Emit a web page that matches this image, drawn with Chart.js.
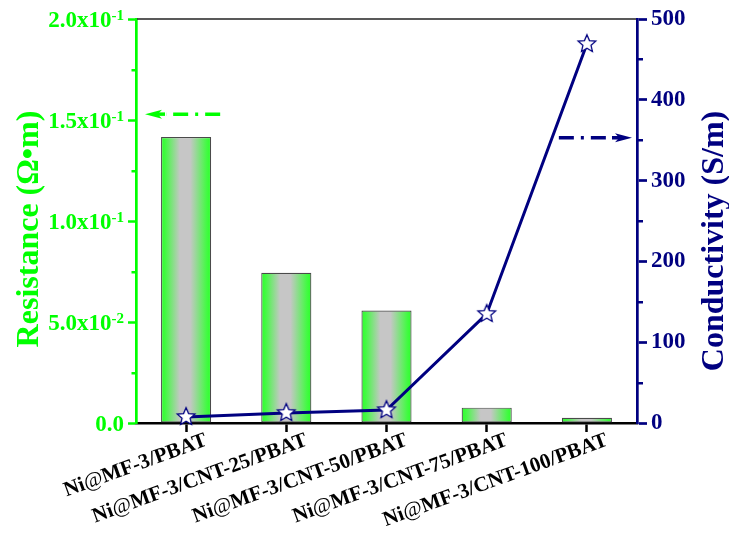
<!DOCTYPE html>
<html>
<head>
<meta charset="utf-8">
<script src="https://cdn.jsdelivr.net/npm/chart.js@4/dist/chart.umd.min.js"></script>
<style>
  html, body { margin: 0; padding: 0; background: #ffffff; }
  canvas { display: block; }
</style>
</head>
<body>
<canvas id="chart" width="729" height="535"></canvas>
<script>
// Samples
const categories = [
  'Ni@MF-3/PBAT',
  'Ni@MF-3/CNT-25/PBAT',
  'Ni@MF-3/CNT-50/PBAT',
  'Ni@MF-3/CNT-75/PBAT',
  'Ni@MF-3/CNT-100/PBAT'
];
// Resistance (Ω•m), left axis
const resistance = [0.1416, 0.0744, 0.0557, 0.0076, 0.0026];
// Conductivity (S/m), right axis
const conductivity = [7.5, 12.5, 16, 135, 469];

// Left axis tick labels: mantissa x10^exponent
const resistanceTicks = [0, 0.05, 0.10, 0.15, 0.20];
const resistanceMantissa = ['0.0', '5.0x10', '1.0x10', '1.5x10', '2.0x10'];
const resistanceExponent = ['', '-2', '-1', '-1', '-1'];
const resistanceMinorTicks = [0.025, 0.075, 0.125, 0.175];
const conductivityMinorTicks = [50, 150, 250, 350, 450];

const GREEN = '#00ff00';
const NAVY = '#000080';
const SERIF = "'Liberation Serif', 'Times New Roman', serif";

// Axis-pointing arrows, given in data units (category index, axis value)
const axisArrows = [
  { scale: 'y',  from: [0.34, 0.1529], to: [-0.41, 0.1529], color: GREEN },
  { scale: 'y1', from: [3.72, 353],    to: [4.45, 353],     color: NAVY }
];

// Open star marker
function makeStar() {
  const s = 26, c = document.createElement('canvas');
  c.width = s; c.height = s;
  const g = c.getContext('2d');
  const R = 9.3, r = R * 0.46, cx = s / 2, cy = s / 2;
  g.beginPath();
  for (let k = 0; k < 10; k++) {
    const ang = -Math.PI / 2 + k * Math.PI / 5;
    const rad = k % 2 ? r : R;
    const px = cx + rad * Math.cos(ang), py = cy + rad * Math.sin(ang);
    if (k === 0) g.moveTo(px, py); else g.lineTo(px, py);
  }
  g.closePath();
  g.fillStyle = '#ffffff';
  g.fill();
  g.lineJoin = 'miter';
  g.lineWidth = 1.3;
  g.strokeStyle = NAVY;
  g.stroke();
  return c;
}
const starMarker = makeStar();

// Horizontal green-grey-green fill for each bar
function barFill(c) {
  const chart = c.chart;
  const xs = chart.scales.x;
  if (!xs || c.type !== 'data' || !isFinite(xs.getPixelForValue(0))) return '#c6c6c6';
  const cx = xs.getPixelForValue(c.dataIndex);
  const w = (xs.getPixelForValue(1) - xs.getPixelForValue(0)) * 0.5;
  const g = chart.ctx.createLinearGradient(cx - w / 2, 0, cx + w / 2, 0);
  g.addColorStop(0.00, '#2cff2c');
  g.addColorStop(0.08, '#40fb40');
  g.addColorStop(0.38, '#c6c6c6');
  g.addColorStop(0.58, '#c6c6c6');
  g.addColorStop(0.92, '#40fb40');
  g.addColorStop(1.00, '#2cff2c');
  return g;
}

const decorations = {
  id: 'decorations',
  afterDatasetsDraw(chart) {
    const ctx = chart.ctx;
    const xs = chart.scales.x;
    ctx.save();
    axisArrows.forEach(ar => {
      const ys = chart.scales[ar.scale];
      const x0 = xs.getPixelForValue(ar.from[0]), y0 = ys.getPixelForValue(ar.from[1]);
      const x1 = xs.getPixelForValue(ar.to[0]),   y1 = ys.getPixelForValue(ar.to[1]);
      const dir = Math.sign(x1 - x0);
      const headLen = 17, headHalf = 4.5;
      ctx.strokeStyle = ar.color;
      ctx.fillStyle = ar.color;
      ctx.lineWidth = 3.5;
      ctx.setLineDash([15, 7, 3, 7]);
      ctx.beginPath();
      ctx.moveTo(x0, y0);
      ctx.lineTo(x1 - dir * (headLen + 4), y1);
      ctx.stroke();
      ctx.setLineDash([]);
      ctx.beginPath();
      ctx.moveTo(x1 - dir * (headLen + 3), y1);
      ctx.lineTo(x1 - dir * headLen * 0.6, y1);
      ctx.stroke();
      ctx.beginPath();
      ctx.moveTo(x1, y1);
      ctx.lineTo(x1 - dir * headLen, y1 - headHalf);
      ctx.lineTo(x1 - dir * headLen * 0.75, y1);
      ctx.lineTo(x1 - dir * headLen, y1 + headHalf);
      ctx.closePath();
      ctx.fill();
    });
    ctx.restore();
  },
  afterDraw(chart) {
    const ctx = chart.ctx;
    const a = chart.chartArea;
    const xs = chart.scales.x, ys = chart.scales.y, y1s = chart.scales.y1;
    ctx.save();

    // top frame line
    ctx.strokeStyle = '#222222';
    ctx.lineWidth = 1.5;
    ctx.beginPath();
    ctx.moveTo(a.left + 1, a.top);
    ctx.lineTo(a.right - 1, a.top);
    ctx.stroke();

    // minor ticks
    ctx.lineWidth = 2.5;
    ctx.strokeStyle = GREEN;
    resistanceMinorTicks.forEach(v => {
      const py = Math.round(ys.getPixelForValue(v)) + 0.25;
      ctx.beginPath(); ctx.moveTo(a.left - 4.5, py); ctx.lineTo(a.left, py); ctx.stroke();
    });
    ctx.strokeStyle = NAVY;
    conductivityMinorTicks.forEach(v => {
      const py = Math.round(y1s.getPixelForValue(v)) + 0.25;
      ctx.beginPath(); ctx.moveTo(a.right, py); ctx.lineTo(a.right + 6, py); ctx.stroke();
    });

    // left tick labels with superscript exponents
    ctx.fillStyle = GREEN;
    ctx.textBaseline = 'alphabetic';
    ctx.textAlign = 'right';
    resistanceTicks.forEach((v, i) => {
      const base = ys.getPixelForValue(v) + 7.5;
      let right = a.left - 12;
      if (resistanceExponent[i]) {
        ctx.font = 'bold 15px ' + SERIF;
        ctx.fillText(resistanceExponent[i], right, base - 7);
        right -= ctx.measureText(resistanceExponent[i]).width;
      }
      ctx.font = 'bold 23px ' + SERIF;
      ctx.fillText(resistanceMantissa[i], right, base);
    });

    // rotated category labels ("@" in regular weight)
    ctx.fillStyle = '#000000';
    ctx.textAlign = 'left';
    const ang = -20 * Math.PI / 180;
    categories.forEach((lab, i) => {
      const at = lab.indexOf('@');
      const parts = [
        [lab.slice(0, at), 'bold'],
        ['@', 'normal'],
        [lab.slice(at + 1), 'bold']
      ];
      let total = 0;
      parts.forEach(p => { ctx.font = p[1] + ' 21px ' + SERIF; total += ctx.measureText(p[0]).width; });
      ctx.save();
      ctx.translate(xs.getPixelForValue(i) + 22, a.bottom + 22);
      ctx.rotate(ang);
      let x = -total;
      parts.forEach(p => {
        ctx.font = p[1] + ' 21px ' + SERIF;
        ctx.fillText(p[0], x, 0);
        x += ctx.measureText(p[0]).width;
      });
      ctx.restore();
    });

    // axis titles
    const mid = (a.top + a.bottom) / 2;
    ctx.textAlign = 'center';
    ctx.font = 'bold 32px ' + SERIF;
    ctx.fillStyle = GREEN;
    ctx.save();
    ctx.translate(a.left - 98, mid + 8);
    ctx.rotate(-Math.PI / 2);
    ctx.fillText('Resistance (Ω•m)', 0, 0);
    ctx.restore();
    ctx.fillStyle = NAVY;
    ctx.save();
    ctx.translate(a.right + 86, mid + 20);
    ctx.rotate(-Math.PI / 2);
    ctx.fillText('Conductivity (S/m)', 0, 0);
    ctx.restore();

    ctx.restore();
  }
};

new Chart(document.getElementById('chart'), {
  data: {
    labels: categories,
    datasets: [
      {
        type: 'line',
        label: 'Conductivity',
        data: conductivity,
        yAxisID: 'y1',
        order: 0,
        borderColor: NAVY,
        borderWidth: 3,
        tension: 0,
        fill: false,
        pointStyle: starMarker,
        pointRadius: 9,
        pointHoverRadius: 9,
        clip: false
      },
      {
        type: 'bar',
        label: 'Resistance',
        data: resistance,
        yAxisID: 'y',
        order: 1,
        backgroundColor: barFill,
        borderColor: '#4a4a4a',
        borderWidth: 1.2,
        borderSkipped: false,
        barPercentage: 0.5,
        categoryPercentage: 1.0
      }
    ]
  },
  options: {
    responsive: false,
    animation: false,
    devicePixelRatio: 1,
    layout: { padding: { top: 19, left: 0, right: 0, bottom: 0 } },
    plugins: {
      legend: { display: false },
      tooltip: { enabled: false }
    },
    scales: {
      x: {
        type: 'category',
        offset: true,
        z: 1,
        grid: {
          offset: false,
          drawOnChartArea: false,
          drawTicks: true,
          tickLength: 9,
          tickColor: '#000000',
          tickWidth: 2.5
        },
        border: { display: true, color: '#000000', width: 2.5 },
        ticks: { display: false },
        afterFit(scale) { scale.height = 112; }
      },
      y: {
        type: 'linear',
        position: 'left',
        min: 0,
        max: 0.2,
        ticks: { display: false, stepSize: 0.05 },
        grid: {
          drawOnChartArea: false,
          drawTicks: true,
          tickLength: 8,
          tickColor: GREEN,
          tickWidth: 2.5
        },
        border: { display: true, color: GREEN, width: 2.7 },
        afterFit(scale) { scale.width = 136; }
      },
      y1: {
        type: 'linear',
        position: 'right',
        min: 0,
        max: 500,
        ticks: {
          stepSize: 100,
          padding: 4,
          color: NAVY,
          font: { family: SERIF, size: 23, weight: 'bold' }
        },
        grid: {
          drawOnChartArea: false,
          drawTicks: true,
          tickLength: 10,
          tickColor: NAVY,
          tickWidth: 2.7
        },
        border: { display: true, color: NAVY, width: 2.7 },
        afterFit(scale) { scale.width = 92; }
      }
    }
  },
  plugins: [decorations]
});
</script>
</body>
</html>
